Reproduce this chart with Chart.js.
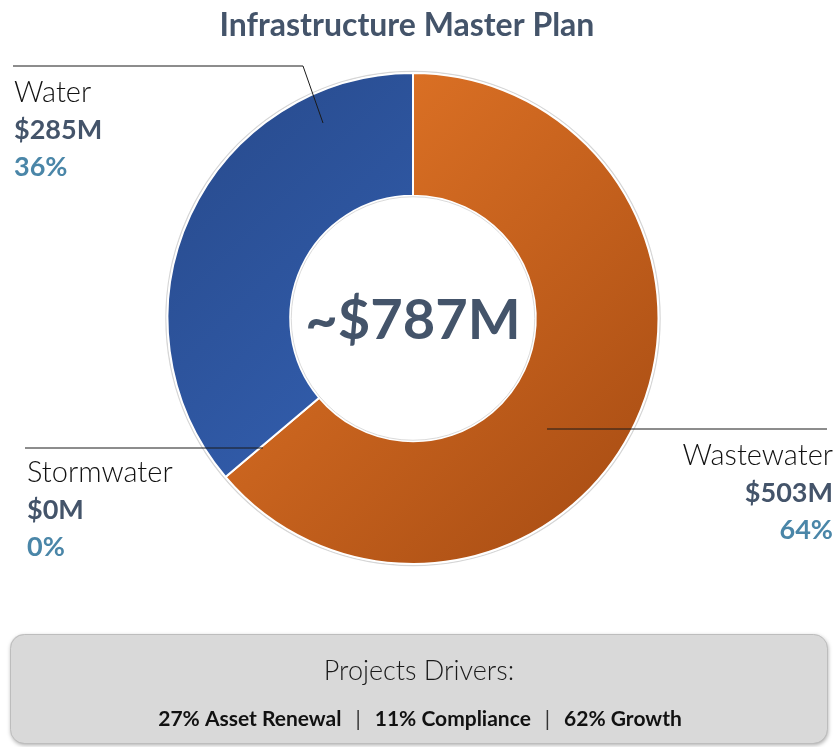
<!DOCTYPE html>
<html>
<head>
<meta charset="utf-8">
<title>Infrastructure Master Plan</title>
<script src="https://cdn.jsdelivr.net/npm/chart.js@4.4.1/dist/chart.umd.min.js"></script>
<style>
  html, body { margin: 0; padding: 0; background: #ffffff; }
  #wrap { width: 837px; height: 747px; }
</style>
</head>
<body>
<div id="wrap"><canvas id="masterPlan" width="837" height="747"></canvas></div>
<script>
// --- data ---
const categories = ["Wastewater", "Water", "Stormwater"];
const costMillions = [503, 285, 0];
const sharePercent = [64, 36, 0];
const totalLabel = "~$787M";
const chartTitle = "Infrastructure Master Plan";
const driversTitle = "Projects Drivers:";
const driverLabels = ["27% Asset Renewal", "11% Compliance", "62% Growth"];

// --- look ---
const FONT = "Lato, 'Open Sans', sans-serif";
const SLATE = "#44546A";
const TEAL = "#4A86A8";
const sliceStops = [
  ["#EC7C2A", "#A44A12"], // wastewater
  ["#27498A", "#3A6CC6"], // water
  ["#7F7F7F", "#7F7F7F"]  // stormwater
];

// label blocks: x anchor, align, first baseline, leader line points
const labelLayout = [
  { x: 833, align: "right", y: 465, line: [[547, 429], [827, 429]] },
  { x: 14, align: "left", y: 102, line: [[13, 66], [303, 66], [323, 123]] },
  { x: 27, align: "left", y: 482, line: [[25, 448], [263, 448]] }
];

function sliceFill(context) {
  const chart = context.chart;
  const area = chart.chartArea;
  if (!area) return sliceStops[context.dataIndex][0];
  const stops = sliceStops[context.dataIndex];
  const g = chart.ctx.createLinearGradient(area.left, area.top, area.right, area.bottom);
  g.addColorStop(0, stops[0]);
  g.addColorStop(1, stops[1]);
  return g;
}

const decorPlugin = {
  id: "decor",
  beforeDatasetsDraw(chart) {
    const arc = chart.getDatasetMeta(0).data[0];
    if (!arc) return;
    const ctx = chart.ctx;
    ctx.save();
    ctx.strokeStyle = "#D6D6D6";
    ctx.lineWidth = 1.5;
    ctx.beginPath();
    ctx.arc(arc.x, arc.y, arc.outerRadius + 1.5, 0, Math.PI * 2);
    ctx.stroke();
    ctx.restore();
  },
  afterDatasetsDraw(chart) {
    const ctx = chart.ctx;
    const arc = chart.getDatasetMeta(0).data[0];
    ctx.save();

    // hole edge
    ctx.strokeStyle = "#DADADA";
    ctx.lineWidth = 1;
    ctx.beginPath();
    ctx.arc(arc.x, arc.y, arc.innerRadius - 1, 0, Math.PI * 2);
    ctx.stroke();

    // title
    ctx.fillStyle = SLATE;
    ctx.textAlign = "center";
    ctx.textBaseline = "alphabetic";
    ctx.font = "bold 32px " + FONT;
    ctx.fillText(chartTitle, 407, 36);

    // centre total
    ctx.font = "bold 56px " + FONT;
    ctx.textBaseline = "middle";
    ctx.fillText(totalLabel, arc.x, arc.y + 2);

    // leader lines + labels
    ctx.textBaseline = "alphabetic";
    categories.forEach((name, i) => {
      const L = labelLayout[i];
      ctx.strokeStyle = "#1A1A1A";
      ctx.lineWidth = 1;
      ctx.beginPath();
      L.line.forEach((p, k) => (k ? ctx.lineTo(p[0], p[1]) : ctx.moveTo(p[0], p[1])));
      ctx.stroke();

      ctx.textAlign = L.align;
      ctx.fillStyle = "#111111";
      ctx.font = "300 29px " + FONT;
      ctx.fillText(name, L.x, L.y);
      ctx.fillStyle = SLATE;
      ctx.font = "bold 27px " + FONT;
      ctx.fillText("$" + costMillions[i] + "M", L.x, L.y + 37);
      ctx.fillStyle = TEAL;
      ctx.fillText(sharePercent[i] + "%", L.x, L.y + 74);
    });

    // drivers box
    ctx.save();
    ctx.shadowColor = "rgba(0,0,0,0.35)";
    ctx.shadowBlur = 4;
    ctx.shadowOffsetX = 1;
    ctx.shadowOffsetY = 2;
    ctx.fillStyle = "#D9D9D9";
    ctx.beginPath();
    ctx.roundRect(10, 634, 817, 109, 14);
    ctx.fill();
    ctx.restore();
    ctx.strokeStyle = "#BDBDBD";
    ctx.lineWidth = 1;
    ctx.beginPath();
    ctx.roundRect(10.5, 634.5, 817, 109, 14);
    ctx.stroke();

    ctx.fillStyle = "#1A1A1A";
    ctx.textAlign = "center";
    ctx.font = "300 27px " + FONT;
    ctx.fillText(driversTitle, 419, 680);

    // driver line, pieces separated by thin bars
    const sep = "|";
    const gap = 14;
    const size = 21;
    ctx.font = "bold " + size + "px " + FONT;
    const widths = driverLabels.map((t) => ctx.measureText(t).width);
    ctx.font = size + "px " + FONT;
    const sepW = ctx.measureText(sep).width;
    const total = widths.reduce((a, b) => a + b, 0) + (driverLabels.length - 1) * (sepW + 2 * gap);
    let x = 420 - total / 2;
    ctx.textAlign = "left";
    driverLabels.forEach((t, i) => {
      ctx.font = "bold " + size + "px " + FONT;
      ctx.fillStyle = "#111111";
      ctx.fillText(t, x, 726);
      x += widths[i];
      if (i < driverLabels.length - 1) {
        x += gap;
        ctx.font = size + "px " + FONT;
        ctx.fillStyle = "#333333";
        ctx.fillText(sep, x, 726);
        x += sepW + gap;
      }
    });

    ctx.restore();
  }
};

new Chart(document.getElementById("masterPlan"), {
  type: "doughnut",
  data: {
    labels: categories,
    datasets: [{
      data: costMillions,
      backgroundColor: sliceFill,
      borderColor: "#FFFFFF",
      borderWidth: 2,
      hoverOffset: 0
    }]
  },
  options: {
    responsive: false,
    animation: false,
    cutout: "50%",
    layout: { padding: { left: 166, right: 177, top: 72, bottom: 182 } },
    plugins: {
      legend: { display: false },
      tooltip: { enabled: false },
      title: { display: false }
    }
  },
  plugins: [decorPlugin]
});
</script>
</body>
</html>
